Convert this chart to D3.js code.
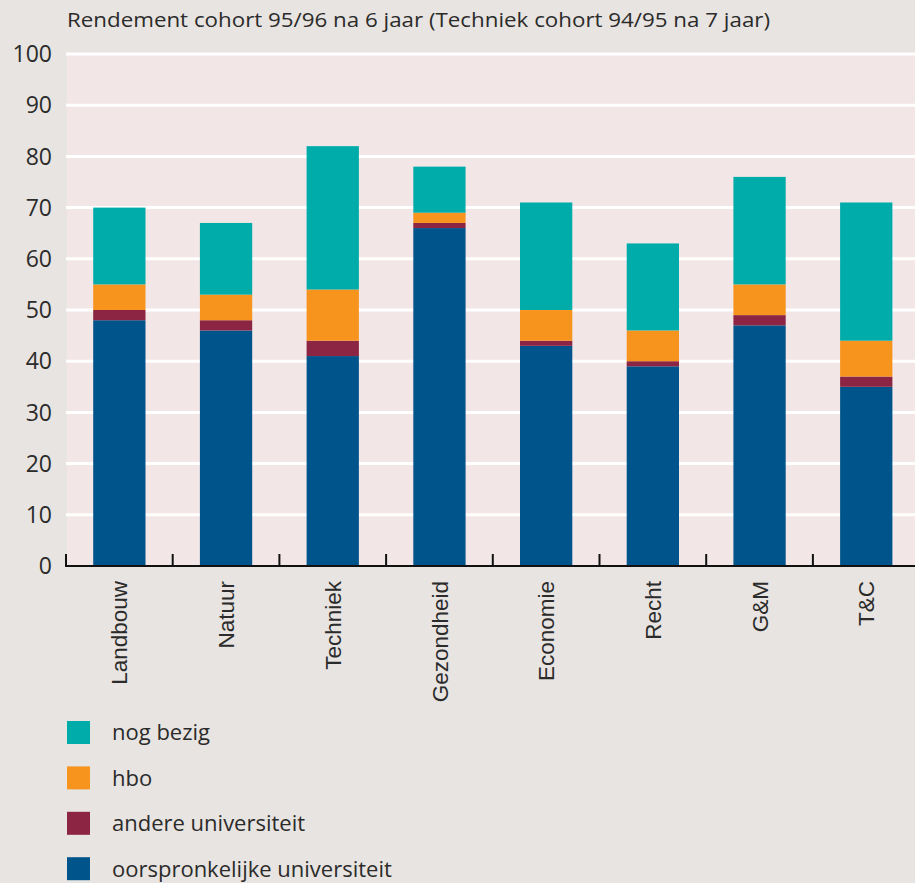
<!DOCTYPE html>
<html>
<head>
<meta charset="utf-8">
<script src="https://cdn.jsdelivr.net/npm/d3@7"></script>
<style>
	html, body { margin: 0; padding: 0; background: #e8e4e1; }
	svg { display: block; }
	.ytick { font-family: 'Open Sans', sans-serif; font-size: 23px; fill: #2b2b2b; }
	.xlab { font-family: 'Liberation Sans', Arial, sans-serif; font-size: 22.5px; fill: #2b2b2b; }
	.title, .legend text { font-family: 'Open Sans', sans-serif; fill: #2b2b2b; }
</style>
</head>
<body>
<script>

// data
const categories = ['Landbouw', 'Natuur', 'Techniek', 'Gezondheid', 'Economie', 'Recht', 'G&M', 'T&C']
const oorspronkelijk = [48, 46, 41, 66, 43, 39, 47, 35]
const andereUni = [2, 2, 3, 1, 1, 1, 2, 2]
const hbo = [5, 5, 10, 2, 6, 6, 6, 7]
const nogBezig = [15, 14, 28, 9, 21, 17, 21, 27]
const yTicks = [0, 10, 20, 30, 40, 50, 60, 70, 80, 90, 100]
const seriesNames = ['oorspronkelijke universiteit', 'andere universiteit', 'hbo', 'nog bezig']
const seriesColors = ['#00548c', '#8b2543', '#f7941e', '#00aca9']
const title = 'Rendement cohort 95/96 na 6 jaar (Techniek cohort 94/95 na 7 jaar)'

const width = 915
const height = 883

const plot = { left : 66, right : 919.6, top : 54, bottom : 566 }

const svg = d3.select('body')
	.append('svg')
	.attr('width', width)
	.attr('height', height)

const rows = categories.map((c, i) => ({
	cat : c,
	'oorspronkelijke universiteit' : oorspronkelijk[i],
	'andere universiteit' : andereUni[i],
	'hbo' : hbo[i],
	'nog bezig' : nogBezig[i]
}))

const stacked = d3.stack().keys(seriesNames)(rows)

const xScale = d3.scaleBand()
	.domain(categories)
	.range([plot.left, plot.right])
	.paddingInner(0.51)
	.paddingOuter(0.255)

const xBounds = d3.scaleBand()
	.domain(categories)
	.range([plot.left, plot.right])

const yScale = d3.scaleLinear()
	.domain([0, 100])
	.range([plot.bottom, plot.top])

const color = d3.scaleOrdinal()
	.domain(seriesNames)
	.range(seriesColors)

// plot background
svg.append('rect')
	.attr('x', plot.left + 1)
	.attr('y', plot.top)
	.attr('width', width - plot.left)
	.attr('height', plot.bottom - plot.top)
	.attr('fill', '#f2e6e6')

// gridlines
svg.append('g')
	.selectAll('line')
	.data(yTicks.filter(d => d > 0))
	.join('line')
		.attr('x1', plot.left)
		.attr('x2', width)
		.attr('y1', d => yScale(d))
		.attr('y2', d => yScale(d))
		.attr('stroke', '#fff')
		.attr('stroke-width', 3)

// y labels
svg.append('g')
	.selectAll('text')
	.data(yTicks)
	.join('text')
		.attr('class', 'ytick')
		.attr('x', 52)
		.attr('y', d => yScale(d))
		.attr('dy', '0.36em')
		.attr('text-anchor', 'end')
		.text(d => d)

// bars
svg.append('g')
	.selectAll('g')
	.data(stacked)
	.join('g')
		.attr('fill', d => color(d.key))
	.selectAll('rect')
	.data(d => d)
	.join('rect')
		.attr('x', d => xScale(d.data.cat))
		.attr('width', xScale.bandwidth())
		.attr('y', d => yScale(d[1]))
		.attr('height', d => yScale(d[0]) - yScale(d[1]))

// x axis
const axis = svg.append('g')

axis.append('line')
	.attr('x1', plot.left - 1)
	.attr('x2', width)
	.attr('y1', plot.bottom)
	.attr('y2', plot.bottom)
	.attr('stroke', '#111')
	.attr('stroke-width', 2)

axis.selectAll('.tick')
	.data(categories)
	.join('line')
		.attr('class', 'tick')
		.attr('x1', d => xBounds(d))
		.attr('x2', d => xBounds(d))
		.attr('y1', plot.bottom)
		.attr('y2', plot.bottom - 12)
		.attr('stroke', '#111')
		.attr('stroke-width', 2)

axis.selectAll('.xlab')
	.data(categories)
	.join('text')
		.attr('class', 'xlab')
		.attr('transform', d => `translate(${xScale(d) + xScale.bandwidth() / 2}, ${plot.bottom + 15}) rotate(-90)`)
		.attr('dy', '0.36em')
		.attr('text-anchor', 'end')
		.text(d => d)

// title
svg.append('text')
	.attr('class', 'title')
	.attr('x', 67)
	.attr('y', 27)
	.attr('font-size', 20)
	.attr('textLength', 703)
	.attr('lengthAdjust', 'spacingAndGlyphs')
	.text(title)

// legend
const legend = svg.append('g')
	.attr('class', 'legend')
	.selectAll('g')
	.data(seriesNames.slice().reverse())
	.join('g')
		.attr('transform', (d, i) => `translate(67, ${721 + i * 45.4})`)

legend.append('rect')
	.attr('width', 23)
	.attr('height', 23)
	.attr('fill', d => color(d))

legend.append('text')
	.attr('x', 45)
	.attr('y', 11.5)
	.attr('dy', '0.36em')
	.attr('font-size', 22)
	.text(d => d)

</script>
</body>
</html>
